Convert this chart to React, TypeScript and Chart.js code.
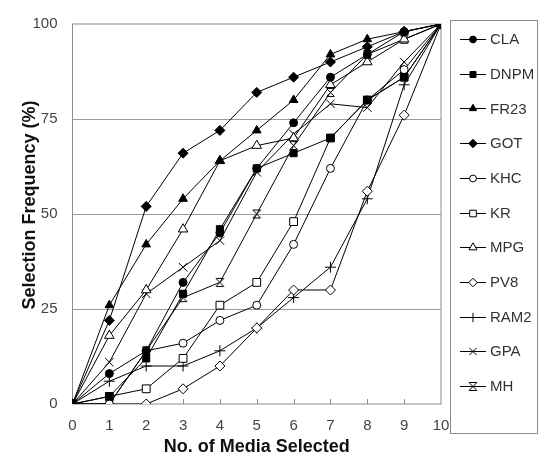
import React, { useEffect, useRef } from 'react';
import { Chart, registerables } from 'chart.js';
import { drawPoint } from 'chart.js/helpers';

Chart.register(...registerables);

const mediaCounts = [0, 1, 2, 3, 4, 5, 6, 7, 8, 9, 10];
const yTicks = [0, 25, 50, 75, 100];
const seriesNames = ['CLA', 'DNPM', 'FR23', 'GOT', 'KHC', 'KR', 'MPG', 'PV8', 'RAM2', 'GPA', 'MH'];
const CLA = [0, 8, 14, 32, 45, 62, 74, 86, 92, 98, 100];
const DNPM = [0, 2, 12, 29, 46, 62, 66, 70, 80, 86, 100];
const FR23 = [0, 26, 42, 54, 64, 72, 80, 92, 96, 98, 100];
const GOT = [0, 22, 52, 66, 72, 82, 86, 90, 94, 98, 100];
const KHC = [0, 0, 14, 16, 22, 26, 42, 62, 80, 88, 100];
const KR = [0, 2, 4, 12, 26, 32, 48, 70, 80, 86, 100];
const MPG = [0, 18, 30, 46, 64, 68, 70, 84, 90, 96, 100];
const PV8 = [0, 0, 0, 4, 10, 20, 30, 30, 56, 76, 100];
const RAM2 = [0, 6, 10, 10, 14, 20, 28, 36, 54, 84, 100];
const GPA = [0, 11, 29, 36, 43, 61, 71, 79, 78, 90, 100];
const MH = [0, 0, 14, 28, 32, 50, 68, 82, 92, 96, 100];

const seriesValues = [CLA, DNPM, FR23, GOT, KHC, KR, MPG, PV8, RAM2, GPA, MH];

const FONT = '"Liberation Sans", Arial, sans-serif';

function makeMHMarker(): HTMLCanvasElement {
  const c = document.createElement('canvas');
  c.width = 11;
  c.height = 11;
  const g = c.getContext('2d')!;
  g.strokeStyle = '#000';
  g.lineWidth = 1;
  g.beginPath();
  g.moveTo(1.5, 1.5);
  g.lineTo(9.5, 9.5);
  g.moveTo(9.5, 1.5);
  g.lineTo(1.5, 9.5);
  g.moveTo(2, 1.5);
  g.lineTo(9, 1.5);
  g.moveTo(2, 9.5);
  g.lineTo(9, 9.5);
  g.stroke();
  return c;
}

export default function App() {
  const ref = useRef<HTMLCanvasElement | null>(null);

  useEffect(() => {
    document.body.style.margin = '0';
    const canvas = ref.current;
    if (!canvas) return;
    const mh = makeMHMarker();

    const styles: any[] = [
      { ps: 'circle', fill: '#000', r: 4 },
      { ps: 'rect', fill: '#000', r: 5 },
      { ps: 'triangle', fill: '#000', r: 5 },
      { ps: 'rectRot', fill: '#000', r: 5 },
      { ps: 'circle', fill: '#fff', r: 4 },
      { ps: 'rect', fill: '#fff', r: 5.5 },
      { ps: 'triangle', fill: '#fff', r: 5.5 },
      { ps: 'rectRot', fill: '#fff', r: 5 },
      { ps: 'cross', fill: '#fff', r: 5.5 },
      { ps: 'crossRot', fill: '#fff', r: 6 },
      { ps: mh, fill: '#fff', r: 5.5 },
    ];

    const datasets = seriesNames.map((name, i) => ({
      label: name,
      data: mediaCounts.map((x, j) => ({ x, y: seriesValues[i][j] })),
      borderColor: '#000',
      borderWidth: 1,
      pointStyle: styles[i].ps,
      pointRadius: styles[i].r,
      pointBackgroundColor: styles[i].fill,
      pointBorderColor: '#000',
      pointBorderWidth: 1,
      fill: false,
      tension: 0,
    }));

    const decor = {
      id: 'decor',
      beforeDatasetsDraw(chart: any) {
        const { ctx, chartArea } = chart;
        const xs = chart.scales.x;
        ctx.save();
        ctx.strokeStyle = '#8c8c8c';
        ctx.lineWidth = 1;
        ctx.strokeRect(chartArea.left, chartArea.top, chartArea.right - chartArea.left, chartArea.bottom - chartArea.top);
        ctx.beginPath();
        mediaCounts.forEach((v) => {
          if (v === 0 || v === 10) return;
          const px = Math.round(xs.getPixelForValue(v)) + 0.5;
          ctx.moveTo(px, chartArea.bottom);
          ctx.lineTo(px, chartArea.bottom - 5);
        });
        ctx.stroke();
        ctx.restore();
      },
      afterDraw(chart: any) {
        const { ctx, chartArea } = chart;
        ctx.save();
        // axis titles
        ctx.fillStyle = '#111';
        ctx.font = `bold 18px ${FONT}`;
        ctx.textAlign = 'center';
        ctx.textBaseline = 'alphabetic';
        ctx.fillText('No. of Media Selected', (chartArea.left + chartArea.right) / 2 + 0, 452);
        ctx.save();
        ctx.translate(30, 205);
        ctx.rotate(-Math.PI / 2);
        ctx.textBaseline = 'middle';
        ctx.fillText('Selection Frequency (%)', 0, 0);
        ctx.restore();

        // legend
        const boxL = 450.5, boxT = 20.5, boxR = 537.5, boxB = 433.5;
        ctx.strokeStyle = '#8c8c8c';
        ctx.lineWidth = 1;
        ctx.strokeRect(boxL, boxT, boxR - boxL, boxB - boxT);
        ctx.font = `15px ${FONT}`;
        ctx.textAlign = 'left';
        ctx.textBaseline = 'middle';
        seriesNames.forEach((name, i) => {
          const y = 39 + i * 34.7;
          const yy = Math.round(y) + 0.5;
          ctx.strokeStyle = '#000';
          ctx.lineWidth = 1;
          ctx.beginPath();
          ctx.moveTo(460, yy);
          ctx.lineTo(486, yy);
          ctx.stroke();
          ctx.fillStyle = styles[i].fill;
          ctx.strokeStyle = '#000';
          drawPoint(ctx, { pointStyle: styles[i].ps, radius: styles[i].r * 0.85, borderWidth: 1, rotation: 0 } as any, 473, yy);
          ctx.fillStyle = '#333';
          ctx.fillText(name, 490, y + 1);
        });
        ctx.restore();
      },
    };

    const chart = new Chart(canvas, {
      type: 'line',
      data: { datasets },
      options: {
        animation: false,
        responsive: false,
        maintainAspectRatio: false,
        layout: { padding: { left: 0, right: 100, top: 20.5, bottom: 0 } },
        plugins: { legend: { display: false }, tooltip: { enabled: false } },
        scales: {
          x: {
            type: 'linear',
            min: 0,
            max: 10,
            afterFit: (s: any) => { s.height = 50; },
            afterBuildTicks: (s: any) => { s.ticks = mediaCounts.map((v) => ({ value: v })); },
            ticks: { padding: 13, font: { family: FONT, size: 15 }, color: '#444', maxRotation: 0 },
            grid: { display: false, drawTicks: false },
            border: { display: false },
          },
          y: {
            type: 'linear',
            min: 0,
            max: 100,
            afterFit: (s: any) => { s.width = 72.5; },
            afterBuildTicks: (s: any) => { s.ticks = yTicks.map((v) => ({ value: v })); },
            ticks: { padding: 15, font: { family: FONT, size: 15 }, color: '#444' },
            grid: {
              drawTicks: false,
              color: (c: any) => (c.tick && (c.tick.value === 0 || c.tick.value === 100) ? 'rgba(0,0,0,0)' : '#9a9a9a'),
              lineWidth: 1,
            },
            border: { display: false },
          },
        },
      },
      plugins: [decor],
    });
    return () => chart.destroy();
  }, []);

  return <canvas ref={ref} width={541} height={454} style={{ display: 'block' }} />;
}
